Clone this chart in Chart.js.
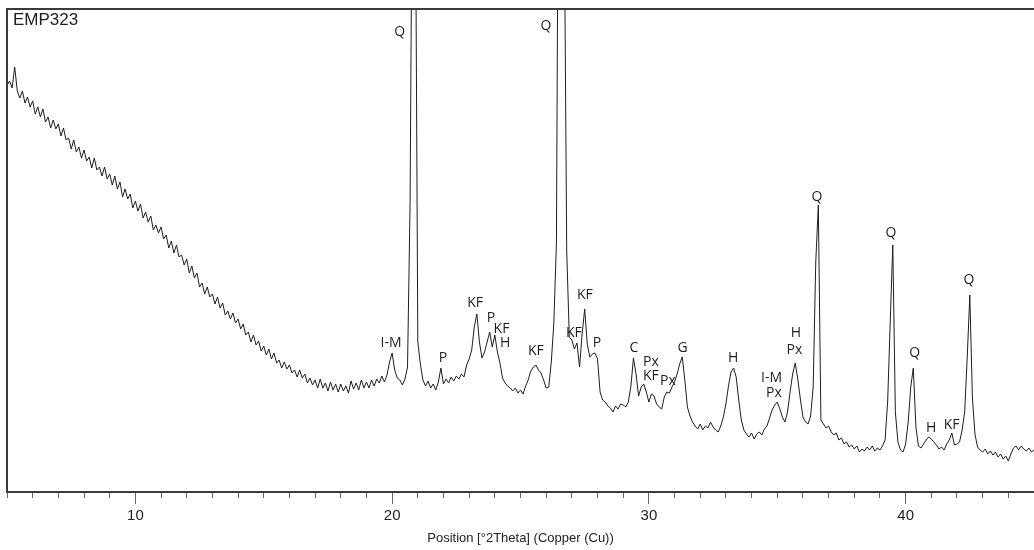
<!DOCTYPE html>
<html>
<head>
<meta charset="utf-8">
<title>EMP323</title>
<script src="https://cdn.jsdelivr.net/npm/chart.js"></script>
<style>
    html, body { margin: 0; padding: 0; background: #fff; }
    #wrap { width: 1034px; height: 550px; }
</style>
</head>
<body>
<div id="wrap"><canvas id="xrd"></canvas></div>
<script>
(function() {
    'use strict';

    const sampleName = 'EMP323';
    const axisTitle = 'Position [°2Theta] (Copper (Cu))';

    // scan: 5 - 45 °2Theta, 0.1° steps
    const scanStart = 5.0;
    const scanStep = 0.1;
    const counts = [
        407, 411, 404, 425, 401, 394, 401, 389, 395, 385,   // 5
        391, 378, 385, 375, 383, 370, 375, 364, 372, 363,   // 6
        368, 356, 364, 352, 354, 343, 352, 340, 345, 334,   // 7
        342, 331, 335, 324, 334, 322, 325, 316, 325, 313,   // 8
        318, 307, 316, 303, 310, 295, 303, 293, 298, 284,   // 9
        291, 281, 288, 274, 280, 270, 276, 262, 267, 259,   // 10
        265, 253, 257, 244, 251, 239, 247, 235, 237, 227,   // 11
        233, 219, 226, 214, 219, 205, 209, 198, 205, 195,   // 12
        198, 188, 195, 184, 189, 177, 181, 173, 179, 169,   // 13
        173, 163, 168, 157, 160, 150, 157, 147, 151, 141,   // 14
        146, 137, 143, 133, 139, 129, 132, 124, 130, 123,   // 15
        127, 119, 122, 115, 122, 114, 118, 109, 114, 107,   // 16
        112, 104, 113, 104, 109, 101, 110, 102, 108, 100,   // 17
        108, 101, 106, 99, 111, 103, 109, 102, 112, 104,    // 18
        110, 104, 112, 106, 113, 109, 116, 110, 117, 130,   // 19
        139, 122, 114, 112, 107, 113, 125, 290, 700, 650,   // 20
        150, 128, 112, 106, 111, 104, 108, 102, 110, 124,   // 21
        108, 113, 109, 115, 111, 116, 113, 118, 115, 127,   // 22
        133, 142, 165, 178, 150, 134, 140, 150, 160, 145,   // 23
        157, 140, 129, 114, 109, 106, 104, 101, 104, 99,    // 24
        102, 98, 106, 112, 121, 125, 127, 122, 119, 112,    // 25
        104, 105, 130, 170, 250, 800, 1000, 600, 242, 155,  // 26
        152, 143, 149, 125, 158, 183, 148, 135, 138, 139,   // 27
        133, 100, 92, 90, 86, 84, 80, 86, 83, 88,           // 28
        87, 85, 90, 106, 134, 118, 96, 105, 108, 100,       // 29
        90, 98, 96, 88, 85, 83, 95, 100, 99, 105,           // 30
        110, 118, 128, 135, 112, 85, 76, 70, 66, 63,        // 31
        68, 62, 66, 64, 70, 65, 62, 60, 66, 75,             // 32
        88, 106, 120, 124, 115, 92, 72, 62, 58, 55,         // 33
        59, 53, 58, 60, 57, 63, 66, 74, 82, 87,             // 34
        90, 83, 75, 70, 80, 100, 118, 129, 113, 93,         // 35
        75, 70, 68, 76, 105, 230, 287, 72, 68, 64,          // 36
        66, 60, 57, 59, 52, 54, 48, 50, 45, 47,             // 37
        43, 46, 40, 43, 41, 45, 42, 46, 41, 44,             // 38
        42, 46, 52, 90, 170, 247, 80, 50, 42, 40,           // 39
        48, 70, 105, 124, 65, 46, 44, 48, 52, 55,           // 40
        53, 50, 47, 43, 45, 42, 48, 52, 59, 47,             // 41
        48, 50, 62, 80, 135, 197, 95, 58, 45, 42,           // 42
        40, 43, 38, 41, 37, 40, 35, 38, 33, 36,             // 43
        31, 38, 44, 46, 42, 46, 43, 41, 44, 40,             // 44
        42                                                  // 45
    ];

    // phase labels (Q quartz, KF k-feldspar, P plagioclase, H, Px, C, G, I-M)
    const peakNames = ['Q', 'Q', 'I-M', 'P', 'KF', 'P', 'KF', 'H', 'KF', 'KF', 'KF', 'P',
        'C', 'Px', 'KF', 'Px', 'G', 'H', 'I-M', 'Px', 'H', 'Px', 'Q', 'Q', 'Q', 'H', 'KF', 'Q'];
    const peakTheta = [20.29, 25.99, 19.96, 21.98, 23.23, 23.85, 24.26, 24.40, 25.60, 27.08, 27.51, 27.98,
        29.42, 30.08, 30.08, 30.74, 31.31, 33.28, 34.78, 34.87, 35.73, 35.67, 36.55, 39.43, 40.35, 40.99, 41.79, 42.47];
    const peakLabelCounts = [460, 466, 149, 134, 189, 174, 163, 149, 141, 159, 197, 149,
        144, 130, 116, 111, 144, 134, 114, 99, 159, 142, 295, 259, 139, 64, 67, 212];

    const twoTheta = counts.map((_, i) => +(scanStart + i * scanStep).toFixed(2));
    const points = twoTheta.map((t, i) => ({ x: t, y: counts[i] }));

    const textFont = '"Liberation Sans", Arial, sans-serif';

    // cerceve: ust ve sol cizgi + numune adi + pik etiketleri
    const framePlugin = {
        id: 'frame',
        afterDraw(chart) {
            const { ctx, chartArea: a, scales: { x, y } } = chart;
            ctx.save();
            ctx.strokeStyle = '#3a3a3a';
            ctx.lineWidth = 2;
            ctx.beginPath();
            ctx.moveTo(a.left, a.bottom);
            ctx.lineTo(a.left, a.top);
            ctx.lineTo(a.right, a.top);
            ctx.stroke();

            ctx.fillStyle = '#1e1e1e';
            ctx.font = '17px ' + textFont;
            ctx.textAlign = 'left';
            ctx.textBaseline = 'alphabetic';
            ctx.fillText(sampleName, a.left + 6, a.top + 16);

            ctx.font = '14px "Open Sans", sans-serif';
            ctx.textAlign = 'center';
            ctx.textBaseline = 'middle';
            peakNames.forEach((name, i) => {
                ctx.fillText(name, x.getPixelForValue(peakTheta[i]), y.getPixelForValue(peakLabelCounts[i]));
            });
            ctx.restore();
        }
    };

    new Chart(document.getElementById('xrd').getContext('2d'), {
        type: 'line',
        data: {
            datasets: [{
                data: points,
                borderColor: '#1e1e1e',
                borderWidth: 1,
                pointRadius: 0,
                tension: 0,
                fill: false
            }]
        },
        options: {
            responsive: true,
            maintainAspectRatio: false,
            animation: false,
            devicePixelRatio: 1,
            layout: {
                padding: { top: 9, left: 7, right: 0, bottom: 0 }
            },
            plugins: {
                legend: { display: false },
                tooltip: { enabled: false }
            },
            scales: {
                x: {
                    type: 'linear',
                    min: 5,
                    max: 45,
                    afterFit: (scale) => {
                        scale.height = 58;
                        // bos uc etiketleri icin ek bosluk istemiyoruz
                        scale.paddingLeft = 0;
                        scale.paddingRight = 0;
                    },
                    border: { display: true, color: '#3a3a3a', width: 2 },
                    grid: {
                        drawOnChartArea: false,
                        drawTicks: true,
                        tickLength: 12,
                        tickWidth: 1,
                        tickColor: '#666',
                        // kisa ara tikler, uzun ana tikler
                        tickBorderDash: (c) => (c.tick && c.tick.value % 10 === 0) ? [] : [5, 40]
                    },
                    ticks: {
                        stepSize: 1,
                        autoSkip: false,
                        maxRotation: 0,
                        padding: 3,
                        color: '#222',
                        font: { size: 15, family: textFont },
                        callback: (v) => (v % 10 === 0) ? String(v) : ''
                    },
                    title: {
                        display: true,
                        text: axisTitle,
                        color: '#222',
                        font: { size: 13, family: textFont },
                        padding: { top: 0, bottom: 4 }
                    }
                },
                y: {
                    display: false,
                    min: 0,
                    max: 483
                }
            }
        },
        plugins: [framePlugin]
    });
})();
</script>
</body>
</html>
